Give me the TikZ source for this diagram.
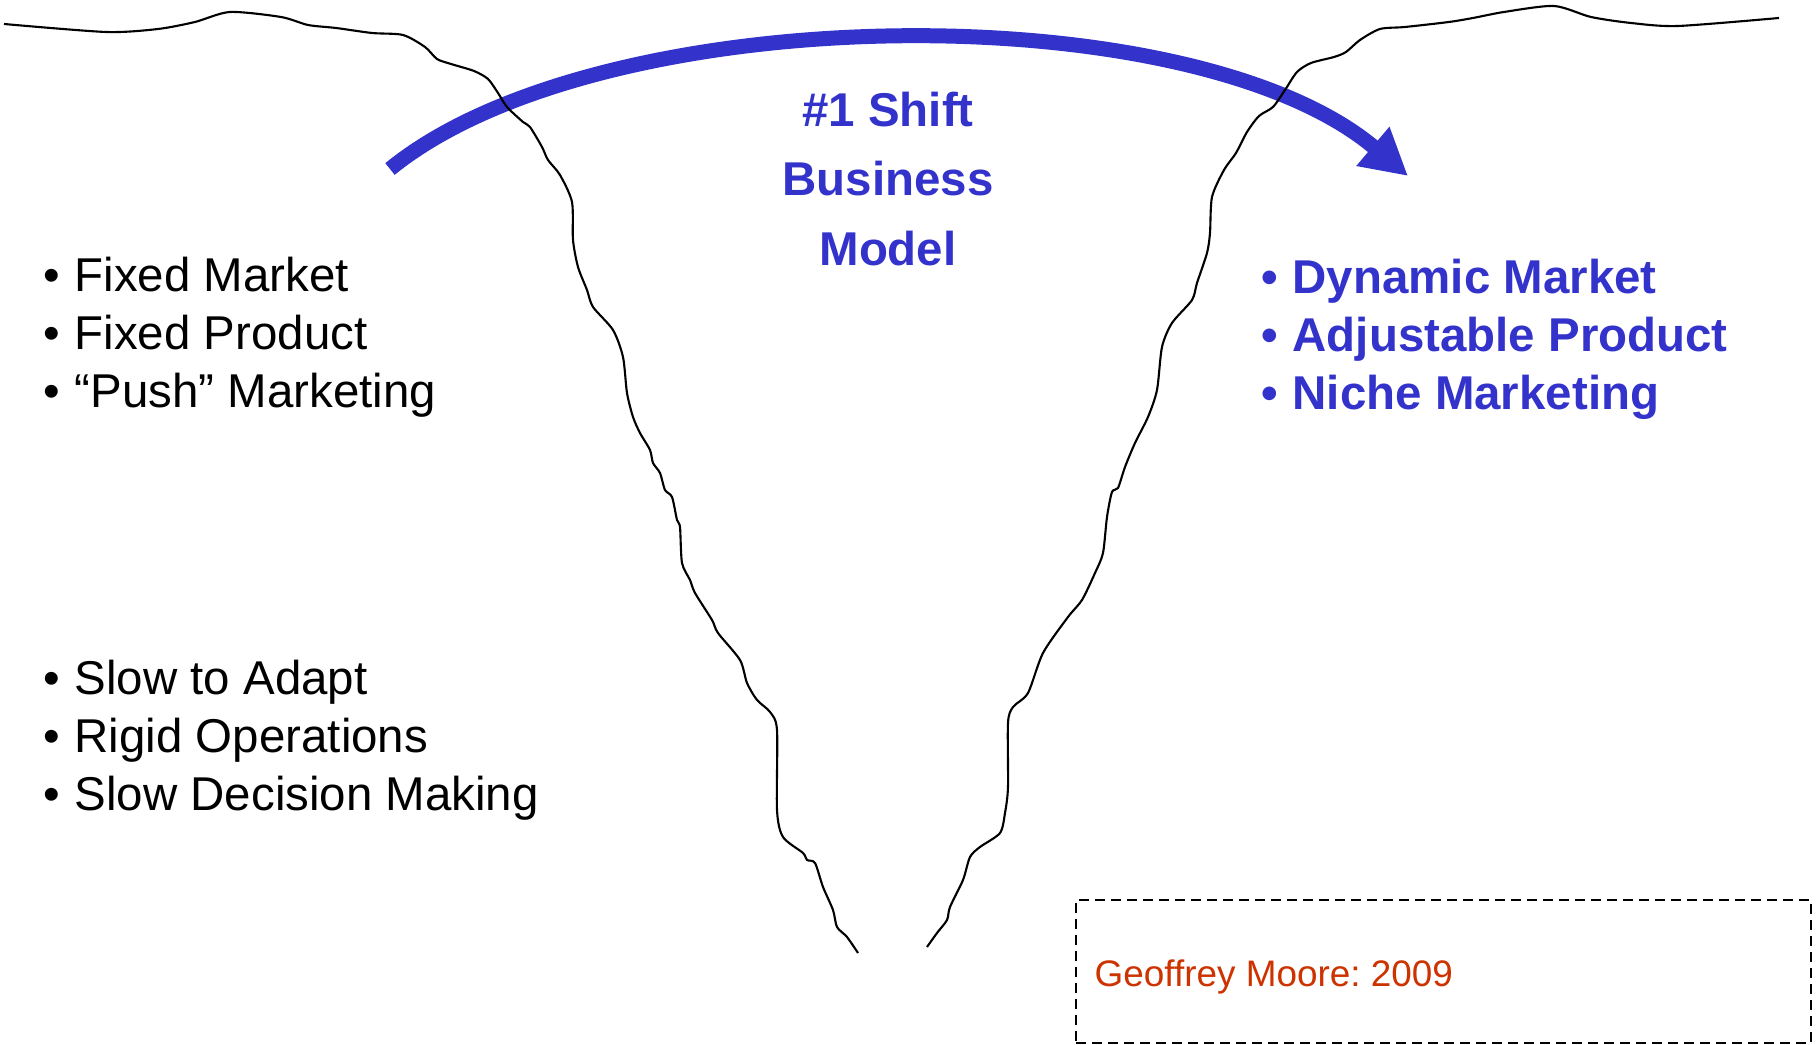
\documentclass[tikz,border=0pt]{standalone}
\usepackage{fontspec}
\setmainfont{Liberation Sans}
\usetikzlibrary{arrows.meta}

\definecolor{shiftblue}{RGB}{51,51,204}
\definecolor{citered}{RGB}{204,51,0}

\newcommand\bitem{\makebox[3.1mm][l]{•}}
\frenchspacing

\begin{document}
\begin{tikzpicture}[
  x=0.1mm,
  y=-0.1mm,
  >=Latex,
  font=\fontsize{13.5}{16.5}\selectfont,
  crack/.style={line width=0.6pt, line join=round, smooth, tension=0.45},
  shiftarrow/.style={-{Triangle[length=4.6mm, width=4.8mm]}, line width=1.5mm,
    draw=shiftblue},
  plainlist/.style={align=left, inner sep=0pt, anchor=west},
  shiftlist/.style={align=left, inner sep=0pt, anchor=west, text=shiftblue,
    font=\fontsize{13.5}{16.5}\selectfont\bfseries},
  shifttitle/.style={align=center, inner sep=0pt, text=shiftblue,
    font=\fontsize{13.5}{19.9}\selectfont\bfseries},
  citebox/.style={draw, dash pattern=on 1mm off 0.6mm, line width=0.6pt,
    minimum width=73.5mm, minimum height=14.3mm, inner sep=0pt},
  citetext/.style={inner sep=0pt, anchor=west, text=citered,
    font=\fontsize{10.5}{12}\selectfont}
]
  \useasboundingbox (0,0) rectangle (1816,1045);

  % The big blue arrow jumps over the chasm.
  \coordinate (shiftstart) at (390,169);
  \coordinate (shiftend)   at (1408,176);
  \draw[shiftarrow] (shiftstart) .. controls (600,-2) and (1190,-8) .. (shiftend);

  % Left edge of the chasm.
  \draw[crack] plot coordinates {
    (4,24) (106,32) (158,29) (195,22) (230,12) (281,17) (308,25) (336,28)
    (372,33) (403,35) (425,47) (437,59) (451,64) (474,71) (488,79) (498,93)
    (507,107) (523,122) (530,127) (542,147) (548,160) (560,175) (572,202)
    (573,240) (578,267) (587,290) (593,307) (613,330) (623,357) (627,393)
    (633,417) (640,433) (650,450) (653,463) (660,473) (665,490) (672,497)
    (677,520) (680,527) (682,563) (690,580) (695,593) (712,620) (718,633)
    (740,660) (747,683) (757,700) (770,712) (777,730) (777,810) (783,837)
    (803,853) (807,860) (815,863) (823,887) (833,910) (837,927) (847,937)
    (858,953)};

  % Right edge of the chasm.
  \draw[crack] plot coordinates {
    (1779,18) (1678,26) (1631,23) (1591,17) (1554,6) (1504,12) (1473,18)
    (1449,22) (1405,27) (1380,29) (1360,40) (1346,52) (1334,57) (1311,63)
    (1297,72) (1285,90) (1273,107) (1259,116) (1247,132) (1236,153)
    (1224,170) (1212,197) (1210,233) (1207,253) (1197,283) (1192,300)
    (1172,323) (1162,347) (1157,390) (1148,417) (1135,443) (1125,467)
    (1118,488) (1112,492) (1107,517) (1103,553) (1095,573) (1082,600)
    (1068,617) (1043,653) (1028,693) (1013,707) (1008,723) (1008,787)
    (1005,813) (1000,833) (980,847) (970,857) (963,880) (950,907) (947,920)
    (937,933) (927,947)};

  % Before and after the shift.
  \node[shifttitle] (shift) at (888,179) {\#1 Shift\\Business\\Model};
  \node[plainlist] (fixedlist) at (43,337)
    {\bitem Fixed Market\\\bitem Fixed Product\\\bitem “Push” Marketing};
  \node[plainlist] (slowlist) at (43,740)
    {\bitem Slow to Adapt\\\bitem Rigid Operations\\\bitem Slow Decision Making};
  \node[shiftlist] (dynamiclist) at (1261,339)
    {\bitem Dynamic Market\\\bitem Adjustable Product\\\bitem Niche Marketing};

  % Source.
  \node[citebox] (cite) at (1443.5,971.5) {};
  \node[citetext] (citation) at (1094,977) {Geoffrey Moore: 2009};
\end{tikzpicture}
\end{document}
